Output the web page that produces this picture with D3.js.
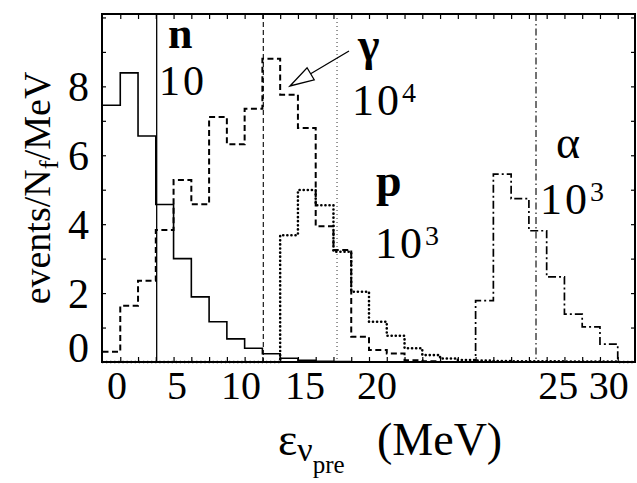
<!DOCTYPE html>
<html>
<head>
<meta charset="utf-8">
<script src="https://cdn.jsdelivr.net/npm/d3@7"></script>
<style>
  html, body { margin: 0; padding: 0; background: #fff; }
  svg { display: block; }
  text { font-family: "Liberation Serif", "Times New Roman", serif; fill: #000; }
</style>
</head>
<body>
<svg id="chart" width="637" height="483"></svg>
<script>
// Pre-scission emission spectra in 1-bin steps across the axis (events per fission per MeV, scaled)
const energyBins = d3.range(0, 30);
const neutron = [7.45, 8.39, 6.56, 4.57, 3.00, 1.89, 1.17, 0.67, 0.40, 0.24, 0.11, 0.05, 0.02, 0.01, 0, 0, 0, 0, 0, 0, 0, 0, 0, 0, 0, 0, 0, 0, 0, 0];
const gamma   = [0.30, 1.63, 2.36, 3.83, 5.28, 4.58, 7.11, 6.32, 7.35, 8.80, 7.76, 6.79, 3.94, 3.25, 0.73, 0.35, 0.25, 0.05, 0.02, 0, 0, 0, 0, 0, 0, 0, 0, 0, 0, 0];
const proton  = [0, 0, 0, 0, 0, 0, 0, 0, 0, 0, 3.68, 4.99, 4.55, 3.20, 2.04, 1.17, 0.76, 0.40, 0.20, 0.10, 0.06, 0.04, 0.03, 0.02, 0.02, 0.02, 0.01, 0.01, 0.01, 0];
const alpha   = [0, 0, 0, 0, 0, 0, 0, 0, 0, 0, 0, 0, 0, 0, 0, 0, 0, 0, 0, 0, 0, 1.78, 5.45, 4.74, 3.81, 2.47, 1.39, 1.02, 0.52, 0];

// Mean energies (vertical markers) and scale factors applied to each spectrum
const particles   = ["n", "γ", "p", "α"];
const meanEnergy  = [3.05, 9.05, 13.2, 24.4];
const scaleExp    = [1, 4, 3, 3];

// Axis tick labels and where each one is printed along the axis
const xTickLabels = ["0", "5", "10", "15", "20", "25", "30"];
const xTickAt     = [0.82, 4.19, 7.79, 11.4, 15.45, 25.65, 28.5];
const yTickValues = [0, 2, 4, 6, 8];

const svg = d3.select("#chart");
const frame = { left: 102, top: 14, right: 635, bottom: 362 };

const x = d3.scaleLinear().domain([0, 30]).range([102.5, 635.5]);
const y = d3.scaleLinear().domain([0, 10.1]).range([frame.bottom, frame.top]);

// Line styles per particle
const histStyle = {
  n:   { dash: null,        width: 1.6, cap: "butt"  },
  "γ": { dash: "6,3.5",     width: 2.0, cap: "butt"  },
  p:   { dash: "0.1,4",     width: 2.6, cap: "round" },
  "α": { dash: "8,3,2,3",   width: 1.7, cap: "butt"  }
};
const meanStyle = {
  n:   { dash: null,        width: 1.3, color: "#000" },
  "γ": { dash: "5,3",       width: 1.1, color: "#000" },
  p:   { dash: "1,3",       width: 1.1, color: "#444" },
  "α": { dash: "7,3,1.5,3", width: 1.1, color: "#000" }
};
const spectra = { n: neutron, "γ": gamma, p: proton, "α": alpha };

const step = d3.line()
  .x(d => x(d[0]))
  .y(d => y(d[1]))
  .curve(d3.curveStepAfter);

// Mean-energy markers
particles.forEach((name, i) => {
  const s = meanStyle[name];
  svg.append("line")
    .attr("x1", x(meanEnergy[i])).attr("x2", x(meanEnergy[i]))
    .attr("y1", frame.top).attr("y2", frame.bottom)
    .attr("stroke", s.color).attr("stroke-width", s.width)
    .attr("stroke-dasharray", s.dash);
});

// Histograms
particles.forEach(name => {
  const vals = spectra[name];
  const pts = energyBins.map((e, i) => [e, vals[i]]);
  pts.push([30, vals[vals.length - 1]]);
  const s = histStyle[name];
  svg.append("path")
    .attr("d", step(pts))
    .attr("fill", "none")
    .attr("stroke", "#000")
    .attr("stroke-width", s.width)
    .attr("stroke-linecap", s.cap)
    .attr("stroke-dasharray", s.dash);
});

// Frame
svg.append("rect")
  .attr("x", frame.left).attr("y", frame.top)
  .attr("width", frame.right - frame.left).attr("height", frame.bottom - frame.top)
  .attr("fill", "none").attr("stroke", "#000").attr("stroke-width", 2);

// Inward minor ticks on all four sides
const xMinor = d3.range(1, 30);
const yMinor = d3.range(1, 11);
const tickGroups = [
  svg.append("g").attr("transform", `translate(0,${frame.bottom})`).call(d3.axisBottom(x).tickValues(xMinor).tickSizeInner(-5).tickSizeOuter(0).tickFormat("")),
  svg.append("g").attr("transform", `translate(0,${frame.top})`).call(d3.axisTop(x).tickValues(xMinor).tickSizeInner(-5).tickSizeOuter(0).tickFormat("")),
  svg.append("g").attr("transform", `translate(${frame.left},0)`).call(d3.axisLeft(y).tickValues(yMinor).tickSizeInner(-4).tickSizeOuter(0).tickFormat("")),
  svg.append("g").attr("transform", `translate(${frame.right},0)`).call(d3.axisRight(y).tickValues(yMinor).tickSizeInner(-4).tickSizeOuter(0).tickFormat(""))
];
tickGroups.forEach(g => {
  g.select(".domain").remove();
  g.selectAll("line").attr("stroke", "#000").attr("stroke-width", 1.2);
});

// X tick labels
svg.append("g").selectAll("text")
  .data(xTickLabels)
  .join("text")
  .attr("x", (d, i) => x(xTickAt[i]))
  .attr("y", 399)
  .attr("text-anchor", "middle")
  .attr("font-size", 40)
  .text(d => d);

// Y tick labels
svg.append("g").selectAll("text")
  .data(yTickValues)
  .join("text")
  .attr("x", 89)
  .attr("y", d => d === 0 ? y(d) + 0 : y(d) + 15)
  .attr("text-anchor", "end")
  .attr("font-size", 42)
  .text(d => d);

// Y axis title
const yTitle = svg.append("text")
  .attr("transform", "translate(50,188) rotate(-90)")
  .attr("text-anchor", "middle")
  .attr("font-size", 38);
yTitle.append("tspan").text("events/N");
yTitle.append("tspan").attr("font-size", 27).attr("dy", 8).text("f");
yTitle.append("tspan").attr("dy", -8).text("/MeV");

// X axis title
const xTitle = svg.append("text").attr("x", 278).attr("y", 455).attr("font-size", 46);
xTitle.append("tspan").text("ε");
xTitle.append("tspan").attr("font-size", 34).attr("dy", 6).text("ν");
xTitle.append("tspan").attr("font-size", 25).attr("dy", 12).text("pre");
xTitle.append("tspan").attr("x", 377).attr("dy", -18).text("(MeV)");

// Particle labels: symbol above, spectrum scale factor below
const labelPos = [
  { name: [168, 48],  nameSize: 44, fact: [159, 95],  factSize: 42, bold: true  },
  { name: [358, 60],  nameSize: 46, fact: [352, 115], factSize: 44, bold: true  },
  { name: [376, 196], nameSize: 46, fact: [375, 258], factSize: 44, bold: true  },
  { name: [556, 158], nameSize: 46, fact: [540, 214], factSize: 44, bold: false }
];
particles.forEach((name, i) => {
  const p = labelPos[i];
  svg.append("text")
    .attr("x", p.name[0]).attr("y", p.name[1])
    .attr("font-size", p.nameSize)
    .attr("font-weight", p.bold ? "bold" : "normal")
    .text(name);
  const t = svg.append("text")
    .attr("x", p.fact[0]).attr("y", p.fact[1])
    .attr("font-size", p.factSize)
    .attr("letter-spacing", 3);
  t.append("tspan").text("10");
  if (scaleExp[i] !== 1) {
    t.append("tspan").attr("font-size", 28).attr("dy", -13).text(scaleExp[i]);
  }
});

// Arrow pointing at the photon spectrum
const tail = [349, 51], tip = [290, 86];
const ang = Math.atan2(tip[1] - tail[1], tip[0] - tail[0]);
const headLen = 24, headHalf = 7;
const base = [tip[0] - headLen * Math.cos(ang), tip[1] - headLen * Math.sin(ang)];
svg.append("line")
  .attr("x1", tail[0]).attr("y1", tail[1])
  .attr("x2", base[0]).attr("y2", base[1])
  .attr("stroke", "#000").attr("stroke-width", 1.3);
svg.append("path")
  .attr("d", d3.line()([
    tip,
    [base[0] - headHalf * Math.sin(ang), base[1] + headHalf * Math.cos(ang)],
    [base[0] + headHalf * Math.sin(ang), base[1] - headHalf * Math.cos(ang)]
  ]) + "Z")
  .attr("fill", "#fff").attr("stroke", "#000").attr("stroke-width", 1.3);
</script>
</body>
</html>
